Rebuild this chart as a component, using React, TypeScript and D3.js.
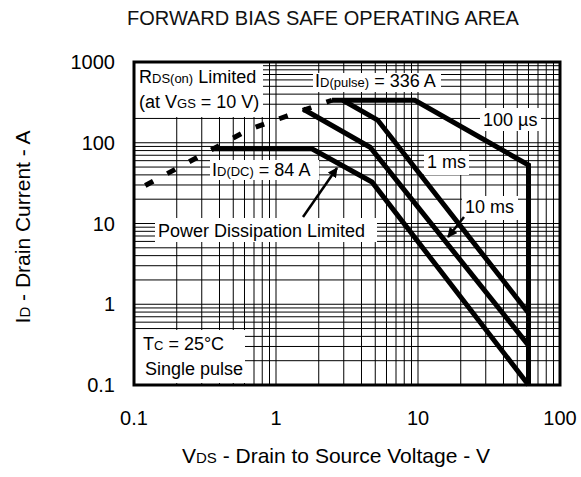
import React from "react";
import * as d3 from "d3";

// ---- data ----
const xTickValues = [0.1, 1, 10, 100];
const xTickLabels = ["0.1", "1", "10", "100"];
const yTickValues = [0.1, 1, 10, 100, 1000];
const yTickLabels = ["0.1", "1", "10", "100", "1000"];

// curves: [VDS (V), ID (A)]
const rdsLimit: [number, number][] = [
  [0.12, 29.5], [0.3, 70.5], [0.635, 144], [1.19, 214], [2.48, 336],
];
const curve100us: [number, number][] = [
  [2.48, 336], [9.5, 336], [60, 53], [60, 0.1],
];
const curve1ms: [number, number][] = [
  [2.96, 336], [5.2, 191], [60, 0.78],
];
const curve10ms: [number, number][] = [
  [1.55, 262], [4.6, 88], [60, 0.31],
];
const curveDC: [number, number][] = [
  [0.36, 84], [1.79, 84], [4.74, 32.7], [60, 0.1],
];

const W = 581;
const H = 477;
const FONT = "'Liberation Sans', Arial, Helvetica, sans-serif";

export default function App() {
  const plotW = 426;
  const plotH = 323;
  const x = d3.scaleLog().domain([0.1, 100]).range([0, plotW]);
  const y = d3.scaleLog().domain([0.1, 1000]).range([plotH, 0]);

  const minor: number[] = [];
  [0.1, 1, 10, 100].forEach((d) => {
    for (let m = 2; m <= 9; m++) minor.push(d * m);
  });
  const xGrid = [...xTickValues, ...minor.filter((v) => v < 100)];
  const yGrid = [...yTickValues, ...minor.filter((v) => v < 1000)];

  const line = d3
    .line<[number, number]>()
    .x((d) => x(d[0]))
    .y((d) => y(d[1]));

  // white label boxes (pixel coords within plot)
  const boxes = [
    { x: 1, y: 1, w: 128, h: 54 }, // RDS
    { x: 179, y: 11, w: 128, h: 19 }, // ID(pulse)
    { x: 76, y: 98, w: 109, h: 20 }, // ID(DC)
    { x: 21, y: 156, w: 222, h: 24 }, // Power
    { x: 1, y: 268, w: 110, h: 53 }, // Tc
    { x: 290, y: 89, w: 45, h: 24 }, // 1 ms
    { x: 328, y: 134, w: 56, h: 24 }, // 10 ms
    { x: 346, y: 46, w: 61, h: 23 }, // 100 us
  ];

  const sub = 13;
  const ann = 18;

  return (
    <svg
      width={W}
      height={H}
      style={{ position: "absolute", left: 0, top: 0, background: "#fff" }}
      fontFamily={FONT}
    >
      <rect x={0} y={0} width={W} height={H} fill="#fff" />
      <text x={323} y={25} textAnchor="middle" fontSize={20} fill="#111">
        FORWARD BIAS SAFE OPERATING AREA
      </text>
      <g transform={`translate(134,62)`}>
        {xGrid.map((v, i) => (
          <line key={"gx" + i} x1={x(v)} x2={x(v)} y1={0} y2={plotH} stroke="#000" strokeWidth={1} />
        ))}
        {yGrid.map((v, i) => (
          <line key={"gy" + i} x1={0} x2={plotW} y1={y(v)} y2={y(v)} stroke="#000" strokeWidth={1} />
        ))}
        {boxes.map((b, i) => (
          <rect key={"b" + i} x={b.x} y={b.y} width={b.w} height={b.h} fill="#fff" />
        ))}
        {/* curves */}
        <path d={line(rdsLimit) || ""} fill="none" stroke="#000" strokeWidth={5} strokeDasharray="9 16" />
        {[curve100us, curve1ms, curve10ms, curveDC].map((c, i) => (
          <path key={"c" + i} d={line(c) || ""} fill="none" stroke="#000" strokeWidth={5} strokeLinejoin="miter" />
        ))}
        <rect x={0} y={0} width={plotW} height={plotH} fill="none" stroke="#000" strokeWidth={3} />

        {/* annotations */}
        <text x={5} y={21} fontSize={ann}>
          R<tspan fontSize={sub}>DS(on)</tspan> Limited
        </text>
        <text x={5} y={46} fontSize={ann}>
          (at V<tspan fontSize={sub}>GS</tspan> = 10 V)
        </text>
        <text x={181} y={25} fontSize={ann}>
          I<tspan fontSize={sub}>D(pulse)</tspan> = 336 A
        </text>
        <text x={78} y={114} fontSize={ann}>
          I<tspan fontSize={sub}>D(DC)</tspan> = 84 A
        </text>
        <text x={24} y={175} fontSize={ann}>
          Power Dissipation Limited
        </text>
        <text x={9} y={288} fontSize={ann}>
          T<tspan fontSize={sub}>C</tspan> = 25°C
        </text>
        <text x={11} y={313} fontSize={ann}>
          Single pulse
        </text>
        <text x={293} y={106} fontSize={ann}>1 ms</text>
        <text x={331} y={151} fontSize={ann}>10 ms</text>
        <text x={349} y={64} fontSize={ann}>100 µs</text>

        {/* arrows */}
        <defs>
          <marker id="ah" viewBox="0 0 10 10" refX={9} refY={5} markerWidth={4} markerHeight={4} orient="auto">
            <path d="M0,0 L10,5 L0,10 z" fill="#000" />
          </marker>
        </defs>
        <line x1={169} y1={155} x2={203} y2={106} stroke="#000" strokeWidth={2.5} markerEnd="url(#ah)" />
        <line x1={330} y1={155} x2={314} y2={175} stroke="#000" strokeWidth={2.5} markerEnd="url(#ah)" />

        {/* tick labels */}
        {xTickValues.map((v, i) => (
          <text key={"xt" + i} x={x(v)} y={plotH + 40} textAnchor="middle" fontSize={20}>
            {xTickLabels[i]}
          </text>
        ))}
        {yTickValues.map((v, i) => (
          <text key={"yt" + i} x={-19} y={y(v) + 7} textAnchor="end" fontSize={20}>
            {yTickLabels[i]}
          </text>
        ))}
      </g>
      <text x={336} y={463} textAnchor="middle" fontSize={21}>
        V<tspan fontSize={15}>DS</tspan> - Drain to Source Voltage - V
      </text>
      <text transform={`translate(30,227) rotate(-90)`} textAnchor="middle" fontSize={21}>
        I<tspan fontSize={15}>D</tspan> - Drain Current - A
      </text>
    </svg>
  );
}
